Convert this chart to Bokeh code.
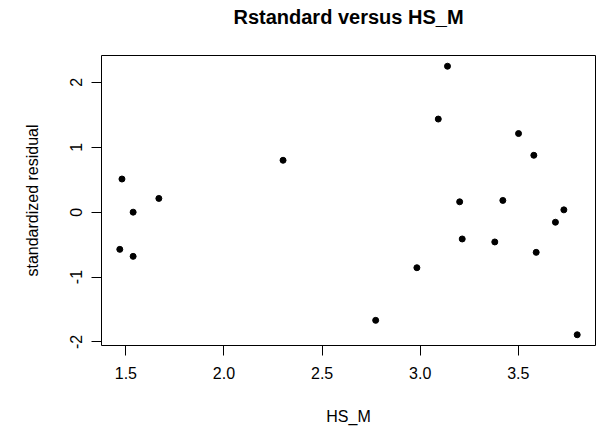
from bokeh.plotting import figure
from bokeh.models import Range1d, FixedTicker, ColumnDataSource, Title
from bokeh.embed import file_html
from bokeh.resources import INLINE

# Data
hs_m = [1.469, 1.480, 1.537, 1.537, 1.668, 2.301, 2.773, 2.983, 3.092, 3.139,
        3.201, 3.214, 3.380, 3.421, 3.501, 3.579, 3.591, 3.689, 3.732, 3.800]
rstandard = [-0.573, 0.511, 0.000, -0.681, 0.212, 0.800, -1.667, -0.856, 1.435, 2.249,
             0.160, -0.413, -0.459, 0.181, 1.212, 0.877, -0.619, -0.155, 0.036, -1.889]

x_ticks = [1.5, 2.0, 2.5, 3.0, 3.5]
x_tick_labels = ["1.5", "2.0", "2.5", "3.0", "3.5"]
y_ticks = [-2, -1, 0, 1, 2]
y_tick_labels = ["-2", "-1", "0", "1", "2"]
title_text = "Rstandard versus HS_M"

FONT = "Liberation Sans"

def padded(vals, frac=0.04):
    lo, hi = min(vals), max(vals)
    d = (hi - lo) * frac
    return lo - d, hi + d

x0, x1 = padded(hs_m)
y0, y1 = padded(rstandard)

p = figure(width=600, height=430, output_backend="svg", toolbar_location=None,
           x_range=Range1d(x0, x1), y_range=Range1d(y0, y1),
           min_border_left=101, min_border_right=5, min_border_top=55, min_border_bottom=85)

# invisible spacer between frame and title (added first = closest to the frame)
spacer = Title(text=" ", text_font_size="2px", standoff=24, text_color="white")
p.add_layout(spacer, "above")

main_title = Title(text=title_text, align="center", text_font=FONT, text_font_size="20px",
                   text_font_style="bold", text_color="black", standoff=0)
p.add_layout(main_title, "above")

p.outline_line_color = "black"
p.outline_line_width = 1
p.xgrid.visible = False
p.ygrid.visible = False
p.background_fill_color = "white"
p.border_fill_color = "white"

src = ColumnDataSource(dict(x=hs_m, y=rstandard))
p.scatter("x", "y", source=src, size=6, fill_color="black", line_color="black")

for ax in (p.xaxis[0], p.yaxis[0]):
    ax.axis_line_color = None
    ax.major_tick_line_color = "black"
    ax.major_tick_out = 10
    ax.major_tick_in = 0
    ax.minor_tick_line_color = None
    ax.major_label_text_font = FONT
    ax.major_label_text_font_size = "16px"
    ax.major_label_text_color = "black"
    ax.axis_label_text_font = FONT
    ax.axis_label_text_font_size = "16px"
    ax.axis_label_text_font_style = "normal"
    ax.axis_label_text_color = "black"

p.xaxis.ticker = FixedTicker(ticks=x_ticks)
p.xaxis.major_label_overrides = dict(zip(x_ticks, x_tick_labels))
p.xaxis.axis_label = "HS_M"
p.xaxis.major_label_standoff = 11
p.xaxis.axis_label_standoff = 26

p.yaxis.ticker = FixedTicker(ticks=y_ticks)
p.yaxis.major_label_overrides = dict(zip(y_ticks, y_tick_labels))
p.yaxis.major_label_orientation = "vertical"
p.yaxis.axis_label = "standardized residual"
p.yaxis.major_label_standoff = 9
p.yaxis.axis_label_standoff = 27

open("out.html", "w").write(file_html(p, INLINE))
